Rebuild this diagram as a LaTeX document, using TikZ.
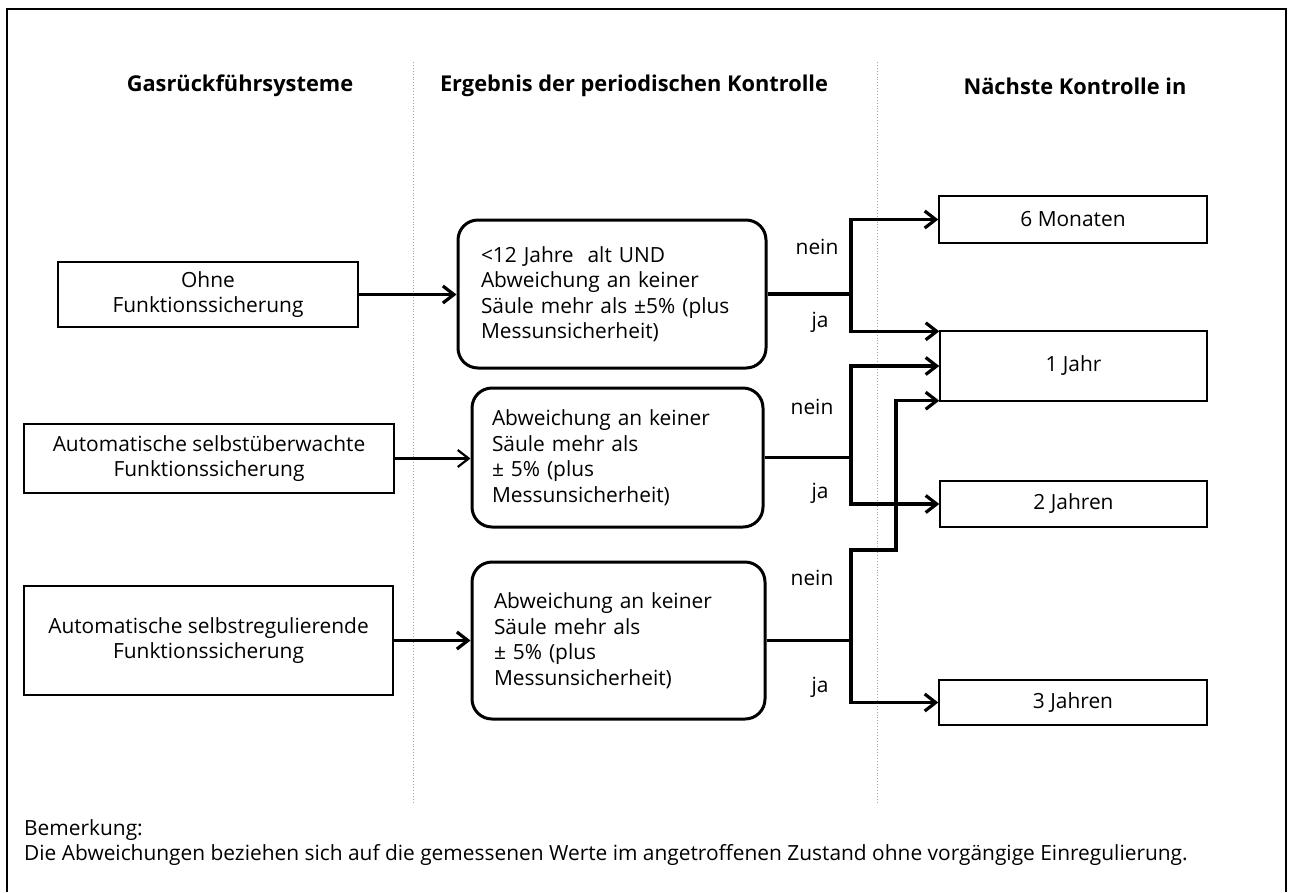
\documentclass[tikz,border=0pt]{standalone}
\usepackage{fontspec}
\setmainfont{Open Sans}
\usetikzlibrary{arrows.meta,calc}
\begin{document}
\begin{tikzpicture}[x=1pt,y=-1pt,
  every node/.style={font=\fontsize{20.9}{25.5}\selectfont, inner sep=0pt},
  sbox/.style={draw, line width=1.4pt, align=center},
  rbox/.style={draw, line width=3pt, rounded corners=20pt, align=left},
  hdr/.style={font=\bfseries\fontsize{21.8}{26}\selectfont},
  note/.style={anchor=west},
  thk/.style={line width=3.2pt},
  thn/.style={line width=2.2pt},
  arr/.style={-{Straight Barb[length=11pt,width=17pt]}},
  sep/.style={gray!70, line width=0.9pt, dotted},
]
\fill[white] (0,0) rectangle (1290,892);
\useasboundingbox (0,0) rectangle (1290,892);

% frame
\draw[line width=2.5pt] (7,892) -- (7,9) -- (1286,9) -- (1286,892);

% column separators
\draw[sep] (413,62) -- (413,802);
\draw[sep] (877,62) -- (877,802);

% headers
\node[hdr] (h1) at (240,86) {Gasrückführsysteme};
\node[hdr] (h2) at (634,86) {Ergebnis der periodischen Kontrolle};
\node[hdr] (h3) at (1075,86) {Nächste Kontrolle in};

% left boxes
\node[sbox, minimum width=300pt, minimum height=65pt] (L1) at (208,294.5) {Ohne\\Funktionssicherung};
\node[sbox, minimum width=370pt, minimum height=69pt] (L2) at (209,458.5) {Automatische selbstüberwachte\\Funktionssicherung};
\node[sbox, minimum width=369pt, minimum height=109pt] (L3) at (208.5,640.5) {Automatische selbstregulierende\\Funktionssicherung};

% rounded decision boxes
\node[rbox, inner xsep=23pt, text width=262pt, minimum height=148pt] (R1) at (612,294)
  {<12 Jahre\ \ alt UND\\Abweichung an keiner\\Säule mehr als ±5\% (plus\\Messunsicherheit)};
\node[rbox, inner xsep=20pt, text width=251pt, minimum height=139pt] (R2) at (617.5,457.5)
  {Abweichung an keiner\\Säule mehr als\\± 5\% (plus\\Messunsicherheit)};
\node[rbox, inner xsep=22pt, text width=249pt, minimum height=157pt] (R3) at (618.5,640.5)
  {Abweichung an keiner\\Säule mehr als\\± 5\% (plus\\Messunsicherheit)};

% result boxes
\node[sbox, minimum width=268pt, minimum height=47pt] (T1) at (1073,219.5) {6 Monaten};
\node[sbox, minimum width=267pt, minimum height=70pt] (T2) at (1073.5,366) {1 Jahr};
\node[sbox, minimum width=267pt, minimum height=46pt] (T3) at (1073.5,504) {2 Jahren};
\node[sbox, minimum width=268pt, minimum height=45pt] (T4) at (1073,702.5) {3 Jahren};

% helper coordinates for the branch lines
\coordinate (sp) at (851,0);
\coordinate (jog) at (896,550);

% inputs
\draw[thk,arr] (L1.east) -- (L1.east -| R1.west);
\draw[thn,arr] (L2.east) -- (L2.east -| R2.west);
\draw[thk,arr] (L3.east) -- (L3.east -| R3.west);

% branch of R1
\draw[thk] (R1.east) -- (R1.east -| sp);
\draw[thk,arr] (R1.east -| sp) |- (T1.west);
\draw[thk,arr] (R1.east -| sp) |- ($(T2.north west)+(0,1)$);

% branch of R2
\draw[thn] (R2.east) -- (R2.east -| sp);
\draw[thk,arr] (R2.east -| sp) |- (T2.west);
\draw[thk,arr] (R2.east -| sp) |- (T3.west);

% branch of R3
\draw[thk] (R3.east) -- (R3.east -| sp);
\draw[thk,arr] (R3.east -| sp) |- (T4.west);
\draw[thk,arr] (R3.east -| sp) -- (sp |- jog) -- (jog) |- ($(T2.south west)+(0,-1)$);

% labels
\node (n1) at (817,247) {nein};
\node (j1) at (820,322) {ja};
\node (n2) at (812,407) {nein};
\node (j2) at (820,493) {ja};
\node (n3) at (812,578) {nein};
\node (j3) at (820,687) {ja};

% remark
\node[note] (b1) at (24,830) {Bemerkung:};
\node[note] (b2) at (24,855) {Die Abweichungen beziehen sich auf die gemessenen Werte im angetroffenen Zustand ohne vorgängige Einregulierung.};
\end{tikzpicture}
\end{document}
